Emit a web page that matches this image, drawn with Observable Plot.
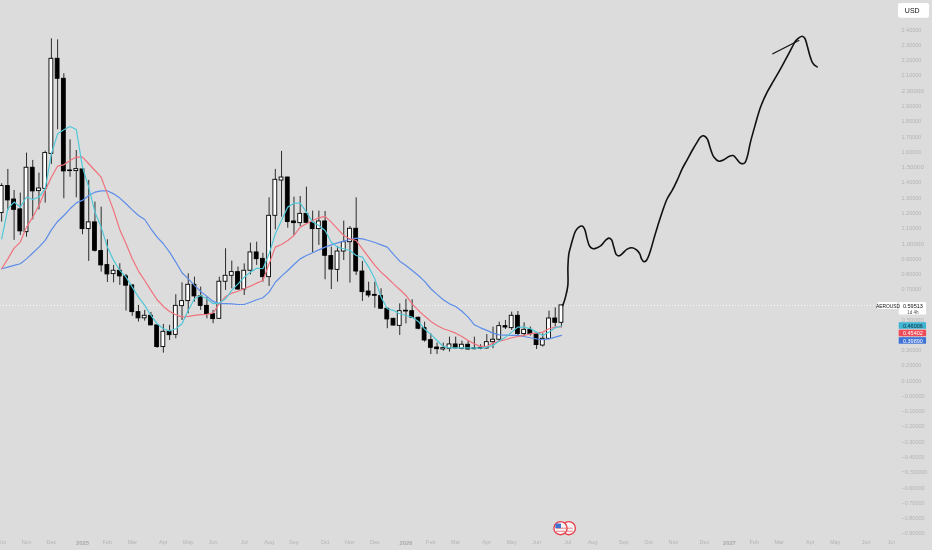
<!DOCTYPE html>
<html>
<head>
<meta charset="utf-8">
<style>
html,body{margin:0;padding:0;background:#dcdcdc;overflow:hidden}
svg{filter:blur(.3px)}
</style>
<script src="https://cdn.jsdelivr.net/npm/d3@7"></script>
<script src="https://cdn.jsdelivr.net/npm/@observablehq/plot@0.6"></script>
</head>
<body>
<div id="chart"></div>
<script>
// Weekly bars, indexed from the first week of 2025 (week 0)
const firstWeek = -13;
const opens = [1.200,1.377,1.289,1.224,1.075,1.497,1.344,1.359,1.588,2.211,2.080,1.479,1.475,1.486,1.095,1.139,.951,.859,.800,.822,.785,.726,.551,.510,.527,.464,.322,.422,.402,.590,.623,.730,.654,.592,.538,.507,.750,.789,.813,.699,.822,.942,.900,.780,1.182,1.413,1.433,1.145,1.134,1.195,1.136,1.095,1.145,.918,.828,.948,1.009,1.097,.817,.686,.664,.656,.573,.507,.461,.560,.557,.514,.446,.367,.319,.306,.311,.339,.311,.337,.313,.317,.313,.354,.370,.459,.446,.527,.407,.435,.409,.332,.376,.509,.481];
const highs = [1.392,1.486,1.348,1.331,1.593,1.545,1.462,1.606,2.342,2.335,2.113,1.680,1.610,1.490,1.414,1.272,1.239,1.025,.857,.868,.798,.726,.595,.562,.549,.464,.470,.464,.665,.743,.802,.780,.715,.649,.562,.780,.966,.885,.846,.867,1.003,1.009,.937,1.300,1.486,1.604,1.435,1.304,1.309,1.370,1.213,1.213,1.210,.977,.981,1.147,1.112,1.300,.883,.747,.747,.704,.573,.511,.605,.634,.632,.518,.485,.409,.348,.348,.387,.387,.361,.361,.387,.337,.404,.453,.485,.496,.551,.555,.481,.453,.415,.409,.557,.579,.597];
const lows = [1.141,1.217,1.021,1.053,1.042,1.156,1.221,1.265,1.519,1.746,1.294,1.435,1.300,1.058,.883,.944,.813,.745,.743,.726,.558,.523,.486,.492,.461,.313,.282,.365,.376,.496,.540,.617,.562,.507,.475,.505,.693,.704,.693,.660,.795,.857,.747,.719,1.090,1.173,1.101,1.053,1.112,1.130,.940,.988,.763,.699,.747,.889,.741,.791,.621,.645,.577,.568,.442,.461,.398,.474,.511,.435,.354,.273,.273,.295,.289,.311,.304,.302,.304,.304,.308,.311,.354,.437,.431,.398,.387,.394,.306,.322,.370,.453,.448];
const closes = [1.377,1.283,1.221,1.080,1.497,1.342,1.361,1.593,2.211,2.080,1.473,1.475,1.488,1.095,1.139,.953,.857,.798,.822,.785,.724,.551,.510,.527,.464,.322,.422,.400,.592,.623,.730,.654,.592,.538,.505,.750,.789,.813,.699,.822,.942,.898,.780,1.182,1.418,1.433,1.141,1.134,1.195,1.136,1.095,1.145,.920,.830,.948,1.009,1.097,.817,.682,.660,.658,.573,.503,.463,.557,.555,.514,.442,.365,.317,.308,.315,.339,.313,.337,.306,.308,.311,.354,.370,.459,.450,.527,.407,.435,.407,.335,.376,.509,.481,.595];

// Moving averages, one value per weekly bar
const maFast = [1.031,1.228,1.272,1.239,1.305,1.289,1.305,1.359,1.588,1.719,1.746,1.767,1.748,1.501,1.370,1.206,1.108,.977,.890,.824,.780,.715,.649,.595,.529,.475,.442,.427,.442,.475,.562,.638,.660,.638,.606,.610,.638,.693,.736,.780,.813,.839,.835,.933,1.064,1.151,1.239,1.265,1.265,1.206,1.141,1.119,1.086,1.009,.977,.966,.955,.922,.911,.846,.769,.649,.573,.562,.540,.529,.518,.490,.440,.405,.365,.326,.317,.317,.317,.317,.315,.315,.322,.332,.361,.387,.420,.453,.453,.442,.420,.398,.420,.448,.460];
const maMid = [.835,.900,.970,1.010,1.108,1.173,1.250,1.348,1.435,1.508,1.516,1.545,1.567,1.567,1.523,1.479,1.435,1.326,1.217,1.090,.999,.900,.820,.758,.693,.632,.588,.555,.534,.518,.523,.529,.534,.536,.545,.606,.653,.675,.688,.704,.721,.741,.758,.867,.977,.994,1.020,1.053,1.108,1.130,1.151,1.169,1.178,1.141,1.097,1.053,1.031,1.020,.966,.911,.857,.813,.776,.736,.699,.660,.605,.562,.525,.490,.463,.442,.429,.413,.391,.365,.343,.326,.326,.348,.361,.370,.383,.391,.398,.409,.413,.420,.442,.453,.454];
const maSlow = [.835,.846,.857,.868,.900,.938,.977,1.021,1.090,1.145,1.184,1.228,1.267,1.283,1.315,1.337,1.346,1.346,1.326,1.298,1.261,1.221,1.184,1.158,1.097,1.042,.999,.944,.879,.809,.769,.726,.686,.654,.621,.606,.606,.605,.601,.601,.616,.632,.645,.682,.747,.787,.824,.863,.900,.922,.940,.959,.977,.992,1.005,1.016,1.027,1.036,1.031,1.020,1.007,.992,.977,.929,.885,.857,.824,.791,.752,.704,.667,.632,.605,.588,.557,.518,.468,.448,.431,.413,.402,.400,.398,.398,.391,.383,.376,.370,.376,.387,.399];

// Hand-drawn projection
const sketchWeeks = [77.22,77.65,78.03,78.04,78.19,78.46,78.83,79.26,79.80,80.33,80.71,81.13,81.56,82.10,82.74,83.39,84.08,84.62,85.05,85.42,85.85,86.33,86.87,87.57,88.37,89.07,89.60,89.87,90.25,90.67,91.32,91.85,92.50,93.19,94.00,94.80,95.60,96.41,97.21,98.02,98.82,99.36,99.89,100.43,100.96,101.50,102.30,103.11,103.91,104.61,105.14,105.79,106.43,106.86,107.39,108.20,109.00,110.07,111.15,112.22,113.29,114.09,114.63,115.16,115.70,116.13,116.50,116.93,117.31,117.68,118.11];
const sketchPrices = [.595,.649,.726,.846,.933,.977,1.031,1.082,1.108,1.115,1.097,1.031,.981,.966,.973,.988,1.021,1.036,1.025,.977,.927,.920,.938,.964,.973,.959,.933,.900,.881,.890,.955,1.031,1.119,1.206,1.294,1.348,1.414,1.490,1.549,1.610,1.665,1.698,1.706,1.687,1.621,1.567,1.540,1.549,1.571,1.577,1.556,1.527,1.527,1.567,1.665,1.785,1.894,1.992,2.069,2.145,2.226,2.287,2.327,2.348,2.359,2.346,2.298,2.233,2.189,2.169,2.158];
const strokeWeeks = [110.98,115.16];
const strokePrices = [2.244,2.331];

// Axis contents
const monthWeeks = [-13,-9,-5,4,8,13,17,21,26,30,34,39,43,47,56,60,65,69,73,78,82,87,91,95,100,108,112,117,121,126,130];
const monthNames = ["Oct","Nov","Dec","Feb","Mar","Apr","May","Jun","Jul","Aug","Sep","Oct","Nov","Dec","Feb","Mar","Apr","May","Jun","Jul","Aug","Sep","Oct","Nov","Dec","Feb","Mar","Apr","May","Jun","Jul"];
const yearWeeks = [0,52,104];
const yearNames = ["2025","2026","2027"];
const minorPrices = [2.4,2.3,2.2,2.1,1.9,1.8,1.7,1.6,1.4,1.3,1.2,1.1,.9,.8,.7,.6,.4,.3,.2,.1,0,-.1,-.2,-.3,-.4,-.6,-.7,-.8,-.9];
const majorPrices = [2,1.5,1,.5,-.5];

// Price tags on the right-hand scale
const tagNames = ["0.46006","0.45402","0.39890"];
const tagSlots = [.460,.411,.362];
const tagFills = ["#3fb4d3","#ef4a57","#3f73d6"];
const tagInks = ["#16323a","#ffffff","#ffffff"];
const lastPrice = .59513;
const ticker = "AEROUSD";
const countdown = "1d 4h";
const currency = "USD";

// US-flag badge
const badgeWeeks = [76.85,78.18];
const badgePrice = -.865;
const badgeStripes = [-.865,-.885];

const weeks = d3.range(opens.length).map(i => firstWeek + i);
const candles = weeks.map((week, i) => ({week, open: opens[i], high: highs[i], low: lows[i], close: closes[i]}));
const sketch = sketchWeeks.map((week, i) => ({week, price: sketchPrices[i]}));
const extra = strokeWeeks.map((week, i) => ({week, price: strokePrices[i]}));
const maLine = (values, stroke) => Plot.line(weeks, {x: d => d, y: (d, i) => values[i], stroke, strokeWidth: 1.2, clip: true});
const signed = v => (v <= 0 ? "\u2212" : "") + Math.abs(v).toFixed(5);
const font = "'Liberation Sans', Arial, sans-serif";
const axisInk = "#b4b4b4";

const chart = Plot.plot({
  width: 932,
  height: 550,
  marginLeft: 0,
  marginRight: 32,
  marginTop: 0,
  marginBottom: 13,
  style: {background: "#dcdcdc", fontFamily: font},
  x: {type: "linear", domain: [-13.183, 131.51], axis: null},
  y: {type: "linear", domain: [-.926, 2.593], axis: null},
  marks: [
    Plot.ruleY([lastPrice], {stroke: "#ffffff", strokeWidth: .8, strokeDasharray: "1,2"}),
    Plot.axisY({ticks: minorPrices, tickFormat: signed, anchor: "right", tickSize: 0, tickPadding: 1, fontSize: 5.5, fill: axisInk, label: null}),
    Plot.axisY({ticks: majorPrices, tickFormat: signed, anchor: "right", tickSize: 0, tickPadding: 1, fontSize: 6.2, fill: axisInk, label: null}),
    Plot.axisX({ticks: monthWeeks, tickFormat: w => monthNames[monthWeeks.indexOf(w)], anchor: "bottom", tickSize: 0, tickPadding: 3, fontSize: 5.5, fill: axisInk, label: null}),
    Plot.axisX({ticks: yearWeeks, tickFormat: w => yearNames[yearWeeks.indexOf(w)], anchor: "bottom", tickSize: 0, tickPadding: 3, fontSize: 5.8, fontWeight: 700, fill: "#a8a8a8", label: null}),
    Plot.ruleX(candles, {x: "week", y1: "low", y2: "high", stroke: "#2c2c2c", strokeWidth: 1, clip: true}),
    Plot.rect(candles, {
      x1: d => d.week - .31, x2: d => d.week + .31,
      y1: d => Math.min(d.open, d.close), y2: d => Math.max(d.open, d.close),
      fill: d => d.close >= d.open ? "#ffffff" : "#000000",
      stroke: "#000000", strokeWidth: .9, clip: true
    }),
    maLine(maSlow, "#5d8de8"),
    maLine(maMid, "#f0727c"),
    maLine(maFast, "#4fc8d8"),
    Plot.line(sketch, {x: "week", y: "price", curve: "catmull-rom", stroke: "#111111", strokeWidth: 1.6}),
    Plot.line(extra, {x: "week", y: "price", stroke: "#111111", strokeWidth: 1.3}),
    // price tags
    Plot.rect([ticker], {x1: 127.9, x2: 131.1, y1: .5675, y2: .614, fill: "#ffffff", rx: 1}),
    Plot.rect([lastPrice], {x1: 131.3, x2: 135.7, y1: .532, y2: .614, fill: "#ffffff", rx: 1}),
    Plot.rect(tagNames, {x1: 131.3, x2: 135.7, y1: (d, i) => tagSlots[i] - .0215, y2: (d, i) => tagSlots[i] + .0215, fill: (d, i) => tagFills[i]}),
    Plot.rect([currency], {x1: 131.2, x2: 136.17, y1: 2.476, y2: 2.574, fill: "#ffffff", rx: 2}),
    Plot.text([ticker], {x: 129.5, y: .591, text: d => d, fontSize: 4.9, fill: "#111111"}),
    Plot.text([lastPrice], {x: 133.5, y: .591, text: d => d.toFixed(5), fontSize: 5.5, fill: "#111111"}),
    Plot.text([countdown], {x: 133.5, y: .551, text: d => d, fontSize: 4.6, fill: "#555555"}),
    Plot.text(tagNames, {x: 133.5, y: (d, i) => tagSlots[i], text: d => d, fontSize: 5.5, fill: (d, i) => tagInks[i]}),
    Plot.text([currency], {x: 133.4, y: 2.525, text: d => d, fontSize: 7, fill: "#111111"}),
    // badge
    Plot.dot(badgeWeeks.slice().reverse(), {x: d => d, y: badgePrice, r: 6.6, fill: "#f6f6f6", stroke: "#e8404e", strokeWidth: 1.4}),
    Plot.ruleY(badgeStripes, {x1: 76.2, x2: 78.9, stroke: "#e8606a", strokeWidth: .8}),
    Plot.rect([badgePrice], {x1: 76.1, x2: 77, y1: -.868, y2: -.838, fill: "#3f6fcf"})
  ]
});
document.getElementById("chart").append(chart);
</script>
</body>
</html>
